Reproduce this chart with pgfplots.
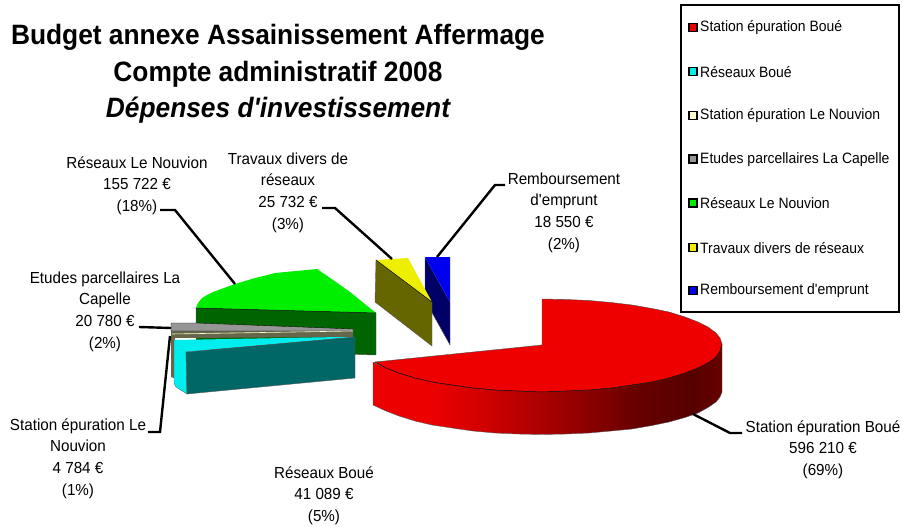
\documentclass[border=0pt]{standalone}
\usepackage{fontspec}
\newfontfamily\lblf{Liberation Sans}[FakeStretch=.95]
\newfontfamily\legf{Liberation Sans}[FakeStretch=.93]
\newfontfamily\titf{Liberation Sans}[FakeStretch=.94]
\setmainfont{Liberation Sans}
\usepackage{pgfplots}
\pgfplotsset{compat=1.18}
\definecolor{rtop}{HTML}{EE0000}
\definecolor{gtop}{HTML}{00EE00}
\definecolor{gside}{HTML}{006400}
\definecolor{btop}{HTML}{0000EE}
\definecolor{bside}{HTML}{000066}
\definecolor{ytop}{HTML}{EEEE00}
\definecolor{yside}{HTML}{666600}
\definecolor{ctop}{HTML}{00EEEE}
\definecolor{cside}{HTML}{006666}
\definecolor{gray1}{HTML}{969696}
\definecolor{pale}{HTML}{FFFFCC}
\definecolor{paleside}{HTML}{66664D}
\pgfdeclarehorizontalshading{redside}{100bp}{rgb(0bp)=(.93,0,0); rgb(33bp)=(.93,0,0); rgb(42bp)=(.8,0,0); rgb(53bp)=(.6,0,0); rgb(63bp)=(.4,0,0); rgb(70.5bp)=(.34,0,0); rgb(75bp)=(.4,0,0); rgb(100bp)=(.4,0,0)}
\newcommand{\lab}{\lblf\fontsize{16}{21.7}\selectfont}
\newcommand{\leg}{\legf\fontsize{15}{18}\selectfont}
\begin{document}
\begin{tikzpicture}
\useasboundingbox (0,0) rectangle (903pt,527pt);
\begin{axis}[scale only axis,width=903pt,height=527pt,xmin=0,xmax=903,ymin=0,ymax=527,y dir=reverse,axis lines=none,clip=false]
% blue slice
\addplot[fill=bside,draw=gray!70!black,line width=.4pt] coordinates {(425,257)(450,302)(450,345)(425,300)} -- cycle;
\addplot[fill=btop,draw=none] coordinates {(425,257)(450,257)(450,302)} -- cycle;
% yellow slice
\addplot[fill=yside,draw=gray!70!black,line width=.4pt] coordinates {(376,260)(432,302)(432,346)(375,302)} -- cycle;
\addplot[fill=ytop,draw=none] coordinates {(376,260)(408,258)(432,302)} -- cycle;
\addplot[black,line width=.5pt] coordinates {(376,260)(432,302)};
% green slice
\addplot[fill=gside,draw=gray!70!black,line width=.4pt] coordinates {(196,308)(376,313)(376,355)(196,350)} -- cycle;
\addplot[fill=gtop,draw=none] coordinates {(196,308)(198,303)(202,298)(207,295)(213,292)(224,288)(235,284)(255,278)(275,273)(296,271)(317,269)(333,280)(350,292)(376,313)} -- cycle;
\addplot[black,line width=.5pt] coordinates {(196,308)(376,313)};
% left strip, gray and pale slices
\addplot[fill=paleside,draw=none] coordinates {(171,331)(353,330)(353,337)(175,338)(174,378)(171,377)} -- cycle;
\addplot[fill=gray1,draw=black,line width=.3pt] coordinates {(171,323)(196,323)(353,329)(353,331)(171,331)} -- cycle;
\addplot[pale,line width=.6pt] coordinates {(172,334)(353,331)};
% cyan slice
\addplot[fill=ctop,draw=gray!70!black,line width=.3pt] coordinates {(174,340)(186,352)(187,394)(176,387)(174,383)} -- cycle;
\addplot[fill=ctop,draw=none] coordinates {(174,340)(340,337)(355,337)(186,352)} -- cycle;
\addplot[fill=cside,draw=gray!70!black,line width=.4pt] coordinates {(186,352)(355,337)(355,378)(187,394)} -- cycle;
% red slice
\addplot[shading=redside,draw=gray!70!black,line width=.4pt] coordinates {(722,344)(720,351)(716,357)(708,363)(698,368)(685,373)(669,378)(652,382)(632,385)(611,388)(589,390)(566,391)(542,392)(518,391)(495,390)(473,388)(452,385)(432,382)(415,378)(399,373)(386,368)(373,362)(373,405)(386,411)(399,416)(415,421)(432,425)(452,428)(473,431)(495,433)(518,434)(542,434.5)(566,434)(589,433)(611,431)(632,429)(652,425.5)(669,422)(685,417.5)(698,413)(708,407.5)(716,402)(720,397)(722,392)} -- cycle;
\addplot[fill=rtop,draw=none] coordinates {(542,345)(542,299)(566,299.5)(589,300.5)(611,302.5)(632,305)(652,308.5)(669,312)(685,317)(698,322)(708,327)(716,333)(720,338)(722,344)(720,351)(716,357)(708,363)(698,368)(685,373)(669,378)(652,382)(632,385)(611,388)(589,390)(566,391)(542,392)(518,391)(495,390)(473,388)(452,385)(432,382)(415,378)(399,373)(386,368)(375,362)} -- cycle;
\addplot[black,line width=.5pt] coordinates {(722,344)(720,351)(716,357)(708,363)(698,368)(685,373)(669,378)(652,382)(632,385)(611,388)(589,390)(566,391)(542,392)(518,391)(495,390)(473,388)(452,385)(432,382)(415,378)(399,373)(386,368)(375,362)};
\addplot[gray!60!black,line width=.4pt] coordinates {(375,362)(542,345)(542,299)(566,299.5)(589,300.5)(611,302.5)(632,305)(652,308.5)(669,312)(685,317)(698,322)(708,327)(716,333)(720,338)(722,344)};
% leader lines
\addplot[black,line width=2.4pt] coordinates {(160,210)(175,210)(235,284)};
\addplot[black,line width=2.4pt] coordinates {(322,208)(335,208)(392,259)};
\addplot[black,line width=2.4pt] coordinates {(505,185)(495,185)(437,257)};
\addplot[black,line width=2.4pt] coordinates {(139,327)(171,328)};
\addplot[black,line width=2.4pt] coordinates {(148,432)(160,432)(170,336)};
\addplot[black,line width=2.4pt] coordinates {(693,414)(730,433)(742,433)};
% legend
\addplot[black,fill=white,line width=2.6pt] coordinates {(681,5)(899,5)(899,312)(681,312)} -- cycle;
\addplot[only marks,mark=square*,mark size=4pt,mark options={draw=black,line width=1.2pt,fill=rtop}] coordinates {(693,27.5)};
\addplot[only marks,mark=square*,mark size=4pt,mark options={draw=black,line width=1.2pt,fill=ctop}] coordinates {(693,71.5)};
\addplot[only marks,mark=square*,mark size=4pt,mark options={draw=black,line width=1.2pt,fill=pale}] coordinates {(693,115.5)};
\addplot[only marks,mark=square*,mark size=4pt,mark options={draw=black,line width=1.2pt,fill=gray1}] coordinates {(693,159)};
\addplot[only marks,mark=square*,mark size=4pt,mark options={draw=black,line width=1.2pt,fill=gtop}] coordinates {(693,203)};
\addplot[only marks,mark=square*,mark size=4pt,mark options={draw=black,line width=1.2pt,fill=ytop}] coordinates {(693,247.5)};
\addplot[only marks,mark=square*,mark size=4pt,mark options={draw=black,line width=1.2pt,fill=btop}] coordinates {(693,290.5)};
\node[anchor=west,inner sep=0pt,font=\leg] at (axis cs:700,28) {Station épuration Boué};
\node[anchor=west,inner sep=0pt,font=\leg] at (axis cs:700,72) {Réseaux Boué};
\node[anchor=west,inner sep=0pt,font=\leg] at (axis cs:700,116) {Station épuration Le Nouvion};
\node[anchor=west,inner sep=0pt,font=\leg] at (axis cs:700,159.5) {Etudes parcellaires La Capelle};
\node[anchor=west,inner sep=0pt,font=\leg] at (axis cs:700,203.5) {Réseaux Le Nouvion};
\node[anchor=west,inner sep=0pt,font=\leg] at (axis cs:700,248) {Travaux divers de réseaux};
\node[anchor=west,inner sep=0pt,font=\leg] at (axis cs:700,291) {Remboursement d'emprunt};
% data labels
\node[align=center,font=\lab] at (axis cs:823,449.5) {Station épuration Boué\\596 210 €\\(69\%)};
\node[align=center,font=\lab] at (axis cs:324,495.5) {Réseaux Boué\\41 089 €\\(5\%)};
\node[align=center,font=\lab] at (axis cs:78,458.5) {Station épuration Le\\Nouvion\\4 784 €\\(1\%)};
\node[align=center,font=\lab] at (axis cs:105,311.5) {Etudes parcellaires La\\Capelle\\20 780 €\\(2\%)};
\node[align=center,font=\lab] at (axis cs:137,185.5) {Réseaux Le Nouvion\\155 722 €\\(18\%)};
\node[align=center,font=\lab] at (axis cs:288,192.5) {Travaux divers de\\réseaux\\25 732 €\\(3\%)};
\node[align=center,font=\lab] at (axis cs:564,212.5) {Remboursement\\d'emprunt\\18 550 €\\(2\%)};
% title
\node[align=center,font=\titf\fontsize{28}{36.5}\selectfont\bfseries] at (axis cs:278,74) {Budget annexe Assainissement Affermage\\Compte administratif 2008\\\itshape Dépenses d'investissement};
\end{axis}
\end{tikzpicture}
\end{document}
